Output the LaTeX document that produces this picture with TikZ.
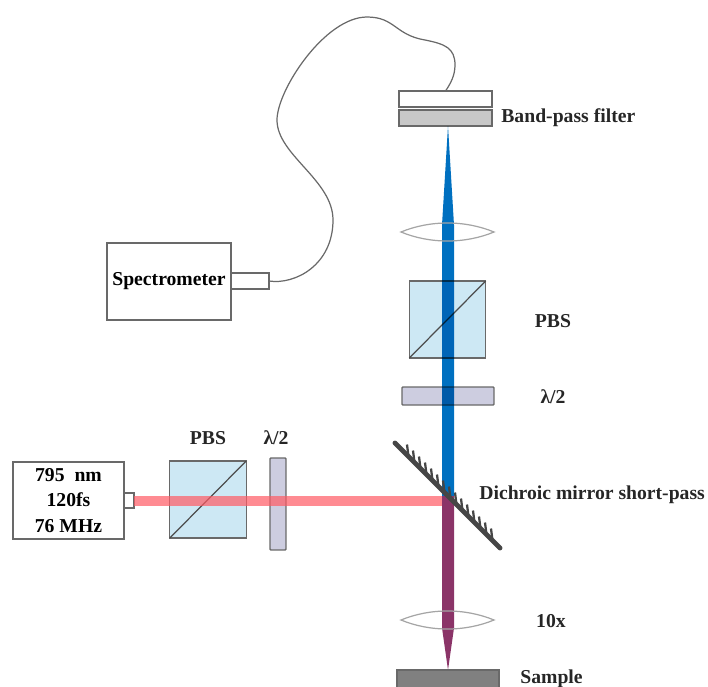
\documentclass[tikz,border=0pt]{standalone}
\usepackage{fontspec}
\setmainfont{Liberation Serif}
\usetikzlibrary{positioning,calc}
\definecolor{linegrey}{RGB}{105,105,105}
\definecolor{mirrorgrey}{RGB}{70,70,70}
\definecolor{lensgrey}{RGB}{165,165,165}
\definecolor{filtergrey}{RGB}{200,200,200}
\definecolor{samplegrey}{RGB}{128,128,128}
\definecolor{cubeblue}{RGB}{205,232,244}
\definecolor{plategrey}{RGB}{205,205,224}
\definecolor{beamblue}{RGB}{0,112,192}
\definecolor{beamred}{RGB}{255,90,100}
\definecolor{beampurple}{RGB}{139,52,104}
\newcommand{\labelfont}{\fontsize{11.2}{13.4}\selectfont\bfseries}

\begin{document}
\begin{tikzpicture}[x=0.02cm, y=-0.02cm,
    part/.style={rectangle, draw=linegrey, line width=0.8pt, inner sep=0pt, outer sep=0pt},
    device/.style={part, fill=white, font=\labelfont, align=center},
    port/.style={part, fill=white},
    cube/.style={part, fill=cubeblue, minimum width=1.53cm, minimum height=1.54cm},
    plate/.style={part, fill=plategrey, rounded corners=0.5pt},
    lbl/.style={inner sep=0pt, font=\labelfont, text=black!85},
    lensline/.style={draw=lensgrey, line width=0.7pt},
    fiber/.style={draw=linegrey, line width=0.7pt},
    diag/.style={draw=black!70, line width=0.7pt}
]
    \useasboundingbox (0,0) rectangle (708,687);

    % detection side
    \node[device, minimum width=2.48cm, minimum height=1.54cm] (spec) at (169,281.5) {\raisebox{-2pt}{Spectrometer}};
    \node[port, minimum width=0.76cm, minimum height=0.32cm] (specport) at (250,281) {};
    \node[port, minimum width=1.86cm, minimum height=0.32cm] (slit) at (445.5,99) {};
    \node[part, fill=filtergrey, minimum width=1.86cm, minimum height=0.32cm] (bandpass) at (445.5,118) {};
    \node[lbl, anchor=west] (bandlabel) at (501,118) {Band-pass filter};

    \draw[fiber] (specport.east) .. controls (295,285) and (333,265) .. (333,220)
        .. controls (333,180) and (277,155) .. (277,120)
        .. controls (277,90) and (325,17) .. (367,17)
        .. controls (395,17) and (395,35) .. (425,40)
        .. controls (445,44) and (455,48) .. (455,65)
        .. controls (455,75) and (451,83) .. (slit.north);

    \node[cube] (pbstop) at (447.5,319.5) {};
    \draw[diag] (pbstop.south west) -- (pbstop.north east);
    \node[plate, minimum width=1.84cm, minimum height=0.36cm] (platetop) at (448,396) {};
    \node[lbl] (pbstoplabel) at (553,321) {PBS};
    \node[lbl] (platetoplabel) at (553,397) {λ/2};

    % beams over the cube and the plate
    \fill[beamblue, blend mode=multiply] (448,126) -- (454,225) -- (454,496) -- (442,496) -- (442,225) -- cycle;
    \fill[beampurple] (442,496) -- (454,496) -- (454,628) -- (448,670) -- (442,628) -- cycle;

    % laser side
    \node[device, minimum width=2.22cm, minimum height=1.54cm] (laser) at (68.5,500.5) {795~~nm\\[1pt]120fs\\[1pt]76 MHz};
    \node[port, minimum width=0.2cm, minimum height=0.3cm] (laserport) at (129,500.5) {};
    \node[cube] (pbsleft) at (208,499.5) {};
    \draw[diag] (pbsleft.south west) -- (pbsleft.north east);
    \node[plate, minimum width=0.32cm, minimum height=1.84cm] (plateleft) at (278,504) {};
    \fill[beamred, fill opacity=0.7] (laserport.east |- 0,496) rectangle (442,506);
    \node[lbl] (pbsleftlabel) at (208,438) {PBS};
    \node[lbl] (plateleftlabel) at (276,438) {λ/2};

    % mirror
    \coordinate (mirrorA) at (395,443);
    \coordinate (mirrorB) at (500,548);
    \draw[mirrorgrey, line width=2.8pt, line cap=round] (mirrorA) -- (mirrorB);
    \foreach \i in {0,...,14}
        \draw[mirrorgrey, line width=1.3pt] ($(408.5,456.5)+(\i*6,\i*6)$) -- ++(-1.5,-12);
    \node[lbl, anchor=west] (mirrorlabel) at (479,495) {Dichroic mirror short-pass};

    % lenses and sample
    \node[inner sep=0pt] (lensone) at (447.5,232) {};
    \draw[lensline] (401,232) .. controls (430,220) and (465,220) .. (494,232)
        .. controls (465,244) and (430,244) .. cycle;
    \node[inner sep=0pt] (lenstwo) at (447.5,620) {};
    \draw[lensline] (401,620) .. controls (430,608) and (465,608) .. (494,620)
        .. controls (465,632) and (430,632) .. cycle;
    \node[lbl] (lenslabel) at (551,621) {10x};
    \node[part, fill=samplegrey, minimum width=2.04cm, minimum height=0.36cm] (sample) at (448,679) {};
    \node[lbl, anchor=west] (samplelabel) at (520,679) {Sample};
\end{tikzpicture}
\end{document}
